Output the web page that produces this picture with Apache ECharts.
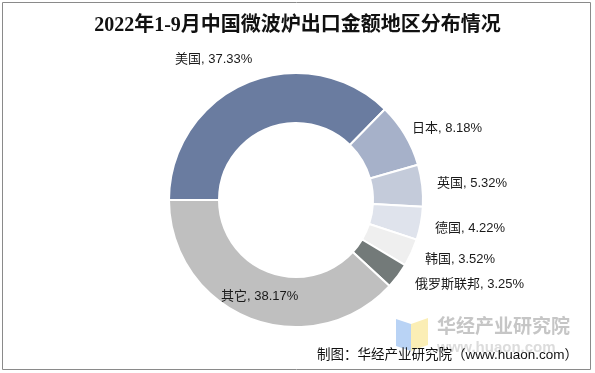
<!DOCTYPE html>
<html><head><meta charset="utf-8">
<script src="https://cdn.jsdelivr.net/npm/echarts@6/dist/echarts.min.js"></script>
<style>html,body{margin:0;padding:0;background:#fff}#c{width:595px;height:373px}</style>
</head><body><div id="c"></div>
<script>
const titleText = '2022年1-9月中国微波炉出口金额地区分布情况';
const categories = ['美国','日本','英国','德国','韩国','俄罗斯联邦','其它'];
const values = [37.33, 8.18, 5.32, 4.22, 3.52, 3.25, 38.17];
const colors = ['#6a7ca0','#a6b1c9','#c4cbda','#dfe3ec','#efefef','#737a79','#bfbfbf'];
const labelPos = [[175,59],[412,128],[437,183],[435,228],[425,259],[415,284],[221,296]];
const sourceText = '制图：华经产业研究院（www.huaon.com）';

const chart = echarts.init(document.getElementById('c'), null, {renderer:'canvas'});
chart.setOption({
  animation:false,
  backgroundColor:'#fff',
  title:{text:titleText,left:'center',top:11,
    textStyle:{fontFamily:'"Liberation Serif","Noto Sans CJK SC",serif',fontWeight:'bold',fontSize:20,color:'#111'}},
  graphic:[
    {type:'rect',shape:{x:2.5,y:2.5,width:588,height:367},style:{fill:'none',stroke:'#8a8a8a',lineWidth:1},z:100},
    {type:'polygon',shape:{points:[[396,319],[411,324],[411,351],[396,346]]},style:{fill:'#b9d3f5'},z:1},
    {type:'polygon',shape:{points:[[411,324],[428,318],[428,345],[411,351]]},style:{fill:'#fbeeb5'},z:1},
    {type:'text',left:437,top:316,style:{text:'华经产业研究院',fill:'#c6c6c6',font:'bold 19px "Noto Sans CJK SC",sans-serif'},z:1},
    {type:'text',left:437,top:340,style:{text:'www.huaon.com',fill:'#dcdcdc',font:'bold 15px "Liberation Sans",sans-serif'},z:1},
    {type:'text',right:17,top:349,style:{text:sourceText,fill:'#111',font:'13.5px "Liberation Sans","Noto Sans CJK SC",sans-serif'},z:10}
  ],
  series:[{
    type:'pie',
    center:[296,200],
    radius:[77,127],
    startAngle:180,
    clockwise:true,
    avoidLabelOverlap:false,
    itemStyle:{borderColor:'#fff',borderWidth:2},
    label:{show:true,position:'outside',formatter:'{b}, {c}%',color:'#1a1a1a',
      fontSize:13,fontFamily:'"Liberation Sans","Noto Sans CJK SC",sans-serif'},
    labelLine:{show:false},
    labelLayout:function(p){const q=labelPos[p.dataIndex];return {x:q[0],y:q[1],align:'left',verticalAlign:'middle'};},
    emphasis:{disabled:true},
    data:categories.map((n,i)=>({name:n,value:values[i],itemStyle:{color:colors[i]}}))
  }]
});
</script></body></html>
